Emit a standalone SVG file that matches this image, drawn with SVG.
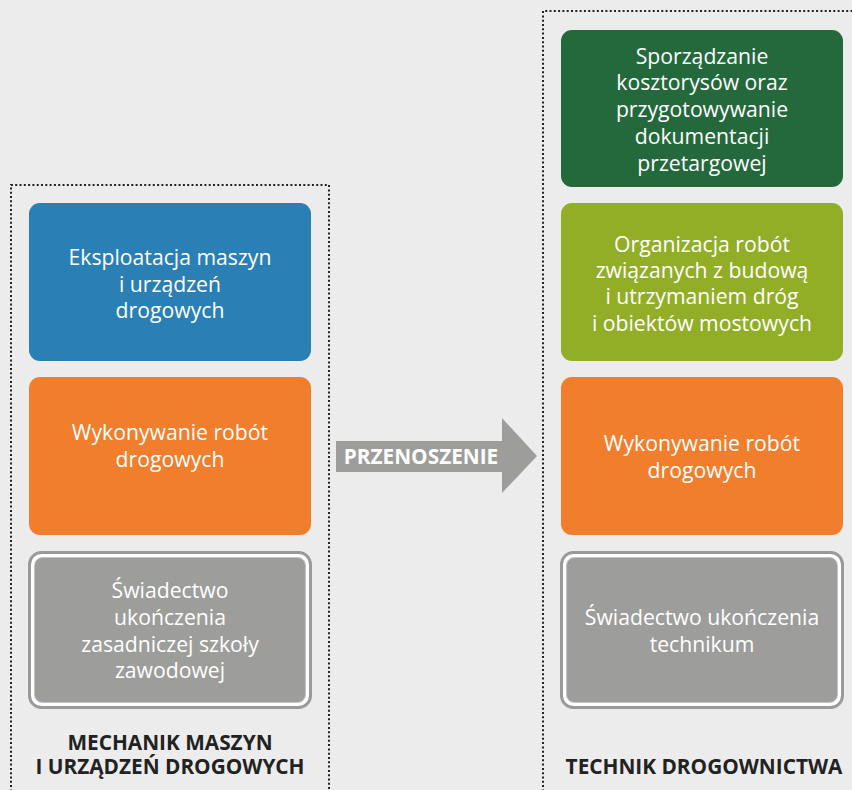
<svg xmlns="http://www.w3.org/2000/svg" width="852" height="790" viewBox="0 0 852 790">
<style>
.box{stroke:none}
.t{font-family:"Open Sans","Liberation Sans",sans-serif;font-size:21.2px;fill:#ffffff;text-anchor:middle}
.lbl{font-family:"Open Sans","Liberation Sans",sans-serif;font-size:20.8px;font-weight:bold;fill:#222222;text-anchor:middle}
.dot{fill:none;stroke:#222222;stroke-width:2;stroke-dasharray:2 2.3}
.gout{fill:#ffffff;stroke:#9a9a9a;stroke-width:3}
.gin{fill:#9d9d9b;stroke:#c4c4c4;stroke-width:1}
</style>
<rect x="0" y="0" width="852" height="790" fill="#ececec"/>
<g id="frames">
<path class="dot" d="M11,800 V185 H329 V800"/>
<path class="dot" d="M543,800 V11 H860"/>
</g>
<g id="n-eksploatacja">
<rect class="box" x="29" y="203" width="282" height="158" rx="11" fill="#2a7fb5"/>
<text class="t" x="170" y="264.5">Eksploatacja maszyn</text>
<text class="t" x="170" y="291.5">i urządzeń</text>
<text class="t" x="170" y="318">drogowych</text>
</g>
<g id="n-wykonywanie-l">
<rect class="box" x="29" y="377" width="282" height="158" rx="11" fill="#f07e2c"/>
<text class="t" x="170" y="439.5">Wykonywanie robót</text>
<text class="t" x="170" y="466.5">drogowych</text>
</g>
<g id="n-swiadectwo-l">
<rect class="gout" x="29.5" y="552.5" width="281" height="155" rx="12"/>
<rect class="gin" x="34.5" y="557.5" width="271" height="145" rx="8"/>
<text class="t" x="170" y="598">Świadectwo</text>
<text class="t" x="170" y="624.5">ukończenia</text>
<text class="t" x="170" y="651.5">zasadniczej szkoły</text>
<text class="t" x="170" y="678">zawodowej</text>
</g>
<g id="n-sporzadzanie">
<rect class="box" x="561" y="30" width="282" height="157" rx="11" fill="#23693b"/>
<text class="t" x="702" y="63.5">Sporządzanie</text>
<text class="t" x="702" y="90.2">kosztorysów oraz</text>
<text class="t" x="702" y="117">przygotowywanie</text>
<text class="t" x="702" y="143.7">dokumentacji</text>
<text class="t" x="702" y="170.5">przetargowej</text>
</g>
<g id="n-organizacja">
<rect class="box" x="561" y="203" width="282" height="158" rx="11" fill="#92ae27"/>
<text class="t" x="702" y="251.5">Organizacja robót</text>
<text class="t" x="702" y="277.5">związanych z budową</text>
<text class="t" x="702" y="304">i utrzymaniem dróg</text>
<text class="t" x="702" y="330.5">i obiektów mostowych</text>
</g>
<g id="n-wykonywanie-r">
<rect class="box" x="561" y="377" width="282" height="158" rx="11" fill="#f07e2c"/>
<text class="t" x="702" y="450.5">Wykonywanie robót</text>
<text class="t" x="702" y="477.5">drogowych</text>
</g>
<g id="n-swiadectwo-r">
<rect class="gout" x="561.5" y="552.5" width="281" height="155" rx="12"/>
<rect class="gin" x="566.5" y="557.5" width="271" height="145" rx="8"/>
<text class="t" x="702" y="624.5">Świadectwo ukończenia</text>
<text class="t" x="702" y="651.5">technikum</text>
</g>
<g id="connectors">
<polygon points="336,441 502,441 502,418 537,456 502,493 502,472 336,472" fill="#9d9d9b"/>
<text x="421" y="464" style="font-family:'Open Sans','Liberation Sans',sans-serif;font-size:20.8px;font-weight:bold;fill:#ffffff;text-anchor:middle">PRZENOSZENIE</text>
</g>
<g id="labels">
<text class="lbl" x="170" y="750">MECHANIK MASZYN</text>
<text class="lbl" x="170" y="774">I URZĄDZEŃ DROGOWYCH</text>
<text class="lbl" x="704" y="774">TECHNIK DROGOWNICTWA</text>
</g>
</svg>
